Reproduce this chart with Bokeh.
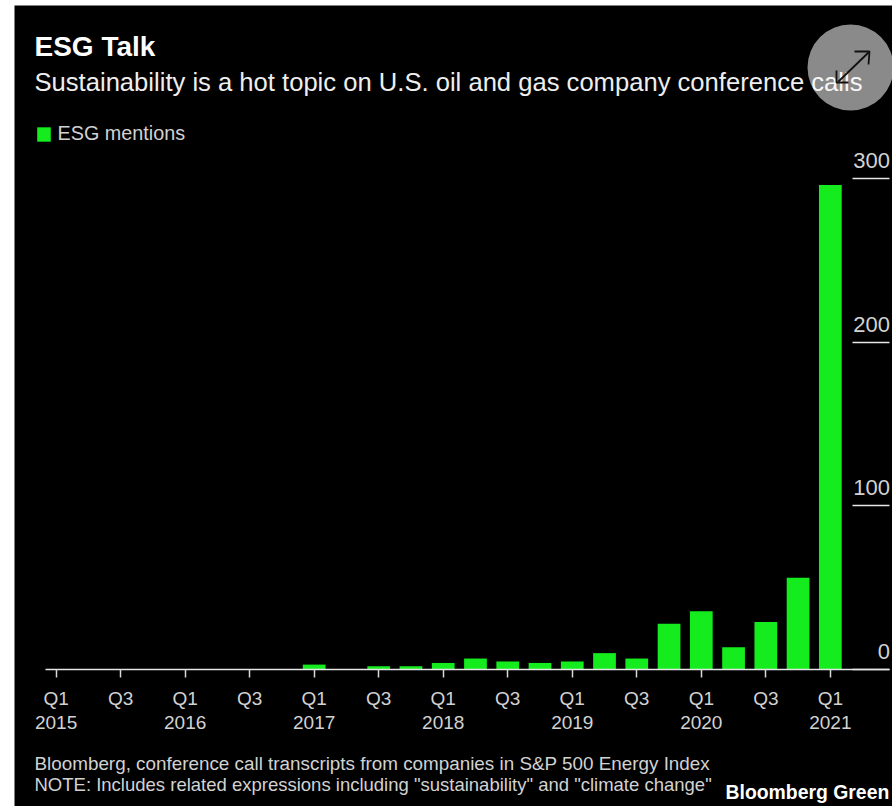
from bokeh.embed import file_html
from bokeh.resources import INLINE
from bokeh.plotting import figure
from bokeh.models import (ColumnDataSource, FixedTicker, Label, Legend, LegendItem,
                          LinearAxis, Range1d)
from bokeh.core.properties import value

# Quarterly counts of ESG mentions, Q1 2015 through Q1 2021
quarters = [f"Q{q} {y}" for y in range(2015, 2021) for q in (1, 2, 3, 4)] + ["Q1 2021"]
mentions = [0, 0, 0, 0, 0, 0, 0, 0, 3, 0, 2, 2, 4, 6.7, 4.9, 4, 4.9, 10, 6.7, 28, 35.6, 13.6, 29, 56, 296]
x_tick_labels = {0: "Q1\n2015", 2: "Q3\n ", 4: "Q1\n2016", 6: "Q3\n ", 8: "Q1\n2017", 10: "Q3\n ",
                 12: "Q1\n2018", 14: "Q3\n ", 16: "Q1\n2019", 18: "Q3\n ", 20: "Q1\n2020",
                 22: "Q3\n ", 24: "Q1\n2021"}
y_ticks = [0, 100, 200, 300]

title = "ESG Talk"
subtitle = "Sustainability is a hot topic on U.S. oil and gas company conference calls"
source_line = "Bloomberg, conference call transcripts from companies in S&P 500 Energy Index"
note_line = 'NOTE: Includes related expressions including "sustainability" and "climate change"'
brand = "Bloomberg Green"

FONT = "Liberation Sans"
GREEN = "#14ec1e"
TEXT = "#d2d2d2"
WHITE = "#ffffff"

# The black card sits inside a white page edge
OFFSET_X, OFFSET_Y = 14, 5
W, H = 892 - OFFSET_X, 806 - OFFSET_Y
BASELINE_Y = 669
PX_PER_UNIT = 1.637
PX_PER_QUARTER = 32.26
FIRST_BAR_X = 55.6

x_at = lambda px: (px - FIRST_BAR_X) / PX_PER_QUARTER
y_at = lambda py: (BASELINE_Y - py) / PX_PER_UNIT

# The frame fills the whole card so titles and footers can share it with the axes
p = figure(width=W, height=H, output_backend="svg", toolbar_location=None,
           x_range=Range1d(x_at(OFFSET_X), x_at(892)),
           y_range=Range1d(y_at(806), y_at(OFFSET_Y)),
           min_border_left=0, min_border_right=0, min_border_top=0, min_border_bottom=0,
           background_fill_color="black", border_fill_color="black",
           outline_line_color=None, y_axis_location=None, x_axis_location=None)
p.margin = (OFFSET_Y, 0, 0, OFFSET_X)
p.grid.visible = False

src = ColumnDataSource(dict(idx=list(range(len(quarters))), quarter=quarters, mentions=mentions))
bars = p.vbar(x="idx", top="mentions", width=0.705, bottom=0, source=src,
              fill_color=GREEN, line_color=None)

# Quarter and year axis along the baseline
x_axis = LinearAxis(ticker=FixedTicker(ticks=list(x_tick_labels)), fixed_location=0,
                    major_label_overrides=x_tick_labels, bounds=(x_at(45), x_at(889)),
                    axis_line_color="#e6e6e6", axis_line_width=1.5,
                    major_tick_line_color="#d8d8d8", major_tick_line_width=1.5,
                    major_tick_in=0, major_tick_out=8, minor_tick_line_color=None,
                    major_label_standoff=10, major_label_text_color=TEXT,
                    major_label_text_font=FONT, major_label_text_font_size="19px",
                    major_label_text_line_height=1.17)
p.add_layout(x_axis, "below")

# Value axis: long ticks at the right edge, its labels sit on top of them
y_axis = LinearAxis(ticker=FixedTicker(ticks=y_ticks), fixed_location=x_at(889),
                    bounds=(0, 300), axis_line_color=None, major_tick_line_color="#e6e6e6",
                    major_tick_line_width=1.5, major_tick_in=37, major_tick_out=0,
                    minor_tick_line_color=None, major_label_text_color=None,
                    major_label_text_font_size="1px")
p.add_layout(y_axis, "right")

p.text(x=[x_at(889.5)] * len(y_ticks), y=y_ticks, text=[str(t) for t in y_ticks],
       text_align="right", text_baseline="alphabetic", y_offset=-18,
       text_color=TEXT, text_font=value(FONT), text_font_size="22px")

legend = Legend(items=[LegendItem(label="ESG mentions", renderers=[bars])],
                location=(20.6, 801 - 135 - 5), orientation="vertical",
                background_fill_alpha=0, border_line_color=None, padding=0, margin=0,
                label_text_color=TEXT, label_text_font=FONT, label_text_font_size="19.8px",
                glyph_width=17, glyph_height=18, label_standoff=6)
p.add_layout(legend)


def page_label(text, px, py, size, color, style="normal"):
    # py is the vertical middle of the text on the page
    p.add_layout(Label(x=px - OFFSET_X, y=py - OFFSET_Y, x_units="canvas", y_units="canvas",
                       text=text, text_font=FONT, text_font_size=size, text_color=color,
                       text_font_style=style, text_align="left", text_baseline="middle"))


page_label(title, 34, 46, "28px", WHITE, "bold")
page_label(subtitle, 34, 81, "25.6px", "#eeeeee")
page_label(source_line, 34, 763, "18.85px", TEXT)
page_label(note_line, 34, 784, "18.5px", TEXT)
page_label(brand, 725, 791, "19.4px", WHITE, "bold")

# Translucent expand button over the top right corner, with its two-headed arrow
button = p.scatter(x=[x_at(850)], y=[y_at(67)], size=86, marker="circle",
                   fill_color="white", fill_alpha=0.54, line_color=None)
button.level = "overlay"
arrow_paths = [[(838, 81), (868, 52)], [(854, 51), (869, 51), (868, 64)], [(836, 70), (836, 82), (848, 82)]]
arrows = p.multi_line(xs=[[x_at(a) for a, _ in path] for path in arrow_paths],
                      ys=[[y_at(b) for _, b in path] for path in arrow_paths],
                      line_color="#111111", line_width=1.8)
arrows.level = "overlay"

open("out.html", "w").write(file_html(p, INLINE))
